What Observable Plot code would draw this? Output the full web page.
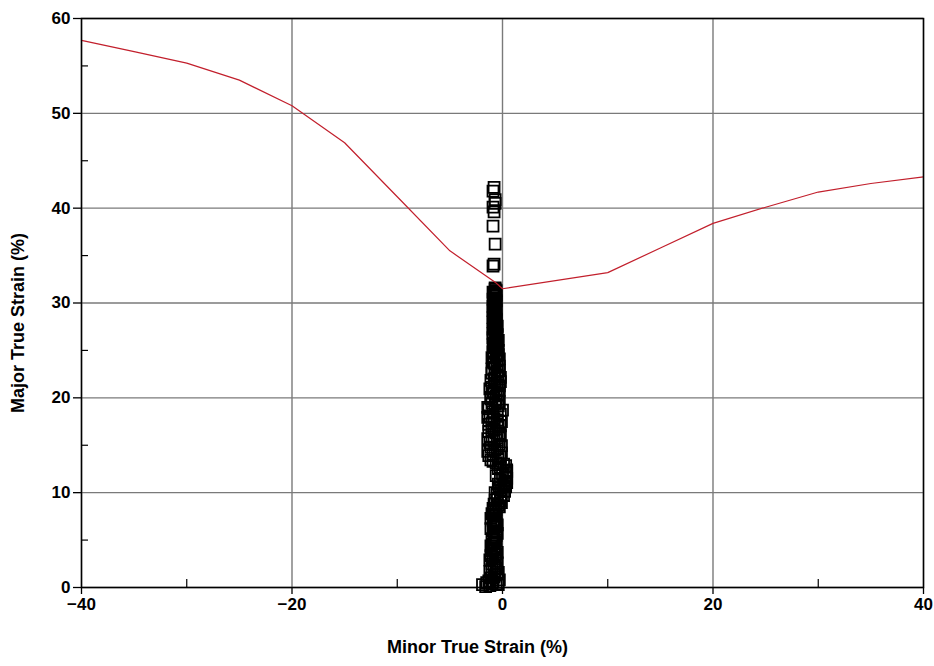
<!DOCTYPE html>
<html><head><meta charset="utf-8">
<script src="https://cdn.jsdelivr.net/npm/d3@7"></script>
<script src="https://cdn.jsdelivr.net/npm/@observablehq/plot@0.6"></script>
<style>body{margin:0;background:#fff;}</style>
</head><body><div id="chart"></div>
<script>
// Forming limit curve (red line)
const flcMinor = [-40, -35, -30, -25, -20, -15, -10, -5, -0.7, 0, 10, 15, 20, 25, 30, 35, 40];
const flcMajor = [57.7, 56.5, 55.3, 53.5, 50.8, 46.9, 41.2, 35.5, 32.2, 31.5, 33.2, 35.8, 38.4, 40.1, 41.7, 42.6, 43.3];

// Measured strain points (open squares)
const ptMinor = [
  -1.9,-1.5,-1.2,-0.9,-0.6,-0.3,-1.1,-0.7,-0.4,-1.0,-0.8,-0.5,-1.2,
  -1.6,-1.0,-0.4,-1.3,-0.8,-0.5,-1.2,-0.6,-1.0,-0.7,
  -0.9,-0.6,-1.0,-0.7,-0.9,-0.6,-0.8,-0.5,-0.9,-0.7,-0.6,-0.9,-0.7,-1.0,
  -0.7,-1.1,-0.5,-0.8,-1.1,-0.7,-1.0,-0.6,-0.8,-1.1,-0.5,-0.8,-1.1,-0.6,-0.8,
  -0.6,-0.3,-0.8,-0.2,-0.5,0.1,-0.7,-0.1,0.3,-0.4,0.2,0.4,-0.6,0.3,0.4,-0.2,0.1,
  -0.9,-0.4,-0.1,-0.7,-0.2,-0.5,0.2,-0.3,0.1,0.4,-0.2,0.3,0.0,0.4,-0.4,0.3,
  -0.9,-0.4,-1.3,-0.1,-0.7,-1.1,-0.3,-0.8,-1.4,-0.2,-0.6,-1.0,-0.4,-1.3,-0.1,-0.8,-1.2,-0.5,0.0,-1.4,-0.7,-0.3,-1.1,
  -0.6,-1.1,-0.2,-0.9,-1.4,-0.5,-0.1,-1.2,-0.5,-1.0,-0.3,-1.3,-0.8,-0.2,-1.0,-0.5,-1.4,-0.2,-0.9,-1.3,-0.4,-1.0,-0.6,
  -0.6,-0.9,-0.3,-1.0,-0.5,-0.2,-0.8,-0.4,-1.0,-0.3,-0.7,-0.5,-0.9,-0.3,-0.6,-0.8,-0.4,-0.7,-0.9,-0.5,
  -1.1,-0.4,-0.8,-1.2,-0.3,-0.7,-1.1,-0.2,-0.7,-0.5,-1.0,-0.3,-0.8,-0.5,-1.0,-0.4,-0.9,-0.5,-0.6,-0.8,
  -0.7,-0.6,-0.9,-0.6,-0.8,-0.7,-0.9,-0.6,-0.8,-0.7,-0.9,-0.7,-0.8,-0.6,-0.9,-0.7,-0.8,-0.6,-0.7,
  -0.4,-0.9,-0.5,-0.7,-0.9,-0.5,-0.8,-0.6,-0.9,-0.6,-0.8,-0.6,-0.9,-0.7,-0.6,-0.8,-0.6,-0.9,-0.7,
  -0.9,-0.8,-0.7,-0.9,-0.8,-0.9,-0.7,-0.7,-0.9,-0.8
];
const ptMajor = [
  0.3,0.5,0.2,0.6,0.4,0.8,1.0,1.3,1.6,1.9,2.3,2.6,2.9,
  0.1,0.4,0.3,0.7,1.1,1.4,1.7,2.1,2.5,2.8,
  3.2,3.5,3.9,4.2,4.6,5.0,5.3,5.7,6.0,6.4,6.8,7.1,7.5,7.8,
  3.05,3.35,3.7,4.05,4.4,4.8,5.15,5.5,5.85,6.2,6.6,6.95,7.3,7.65,8.0,
  8.2,8.5,8.8,9.1,9.4,9.7,10.0,10.3,10.6,10.9,11.2,11.5,11.8,12.1,12.4,12.7,13.0,
  8.35,8.65,8.95,9.25,9.55,9.85,10.15,10.45,10.75,11.05,11.35,11.65,11.95,12.25,12.55,12.85,
  13.3,13.6,13.9,14.2,14.5,14.8,15.1,15.4,15.7,16.0,16.3,16.6,16.9,17.2,17.5,17.8,18.1,18.4,18.7,19.0,19.3,19.6,19.9,
  13.15,13.45,13.75,14.05,14.35,14.65,14.95,15.25,15.55,15.85,16.15,16.45,16.75,17.05,17.35,17.65,17.95,18.25,18.55,18.85,19.15,19.45,19.75,
  20.2,20.5,20.8,21.1,21.4,21.7,22.0,22.3,22.6,22.9,23.2,23.5,23.8,24.1,24.4,24.7,25.0,25.3,25.6,25.9,
  20.05,20.35,20.65,20.95,21.25,21.55,21.85,22.15,22.45,22.75,23.05,23.35,23.65,23.95,24.25,24.55,24.85,25.15,25.45,25.75,
  26.2,26.5,26.8,27.1,27.4,27.7,28.0,28.3,28.6,28.9,29.2,29.5,29.8,30.1,30.4,30.7,31.0,31.3,31.6,
  26.05,26.35,26.65,26.95,27.25,27.55,27.85,28.15,28.45,28.75,29.05,29.35,29.65,29.95,30.25,30.55,30.85,31.15,31.45,
  33.9,34.1,36.2,38.1,39.6,40.1,40.5,40.9,41.8,42.2
];

const xMajorTicks = [-40, -20, 0, 20, 40];
const xMinorTicks = [-30, -10, 10, 30];
const yMajorTicks = [0, 10, 20, 30, 40, 50, 60];
const yMinorTicks = [5, 15, 25, 35, 45, 55];
const xTitle = "Minor True Strain (%)";
const yTitle = "Major True Strain (%)";

const flc = flcMinor.map((m, i) => ({minor: m, major: flcMajor[i]}));
const pts = ptMinor.map((m, i) => ({minor: m, major: ptMajor[i]}));

const font = "'Liberation Sans', Arial, Helvetica, sans-serif";

const chart = Plot.plot({
  width: 934,
  height: 666,
  marginLeft: 81,
  marginRight: 11,
  marginTop: 18,
  marginBottom: 79,
  style: {fontFamily: font, background: "#fff", color: "#000"},
  x: {domain: [-40, 40], label: null},
  y: {domain: [0, 60], label: null},
  marks: [
    Plot.gridX(xMajorTicks, {stroke: "#7a7a7a", strokeOpacity: 1, strokeWidth: 1.4}),
    Plot.gridY(yMajorTicks, {stroke: "#7a7a7a", strokeOpacity: 1, strokeWidth: 1.4}),
    Plot.axisX(xMinorTicks, {tickSize: -8, text: null, label: null, strokeWidth: 1.2}),
    Plot.axisY(yMinorTicks, {tickSize: -7, text: null, label: null, strokeWidth: 1.2}),
    Plot.axisX(xMajorTicks, {tickSize: 7, tickPadding: 3, fontSize: 17, fontWeight: "bold", label: null, strokeWidth: 1.3}),
    Plot.axisY(yMajorTicks, {tickSize: 8, tickPadding: 3, fontSize: 17, fontWeight: "bold", label: null, strokeWidth: 1.3}),
    Plot.dot(pts, {x: "minor", y: "major", symbol: "square", r: 6.2, stroke: "#000", strokeWidth: 1.8, fill: "none"}),
    Plot.line(flc, {x: "minor", y: "major", stroke: "#c21f2c", strokeWidth: 1.2}),
    Plot.frame({stroke: "#000", strokeWidth: 1.5}),
    Plot.text([xTitle], {frameAnchor: "bottom", dy: 65, dx: -25, fontSize: 18, fontWeight: "bold", fill: "#000"}),
    Plot.text([yTitle], {frameAnchor: "left", rotate: -90, dx: -63, dy: 20, textAnchor: "middle", fontSize: 18, fontWeight: "bold", fill: "#000"})
  ]
});
document.getElementById("chart").appendChild(chart);
</script>
</body></html>
